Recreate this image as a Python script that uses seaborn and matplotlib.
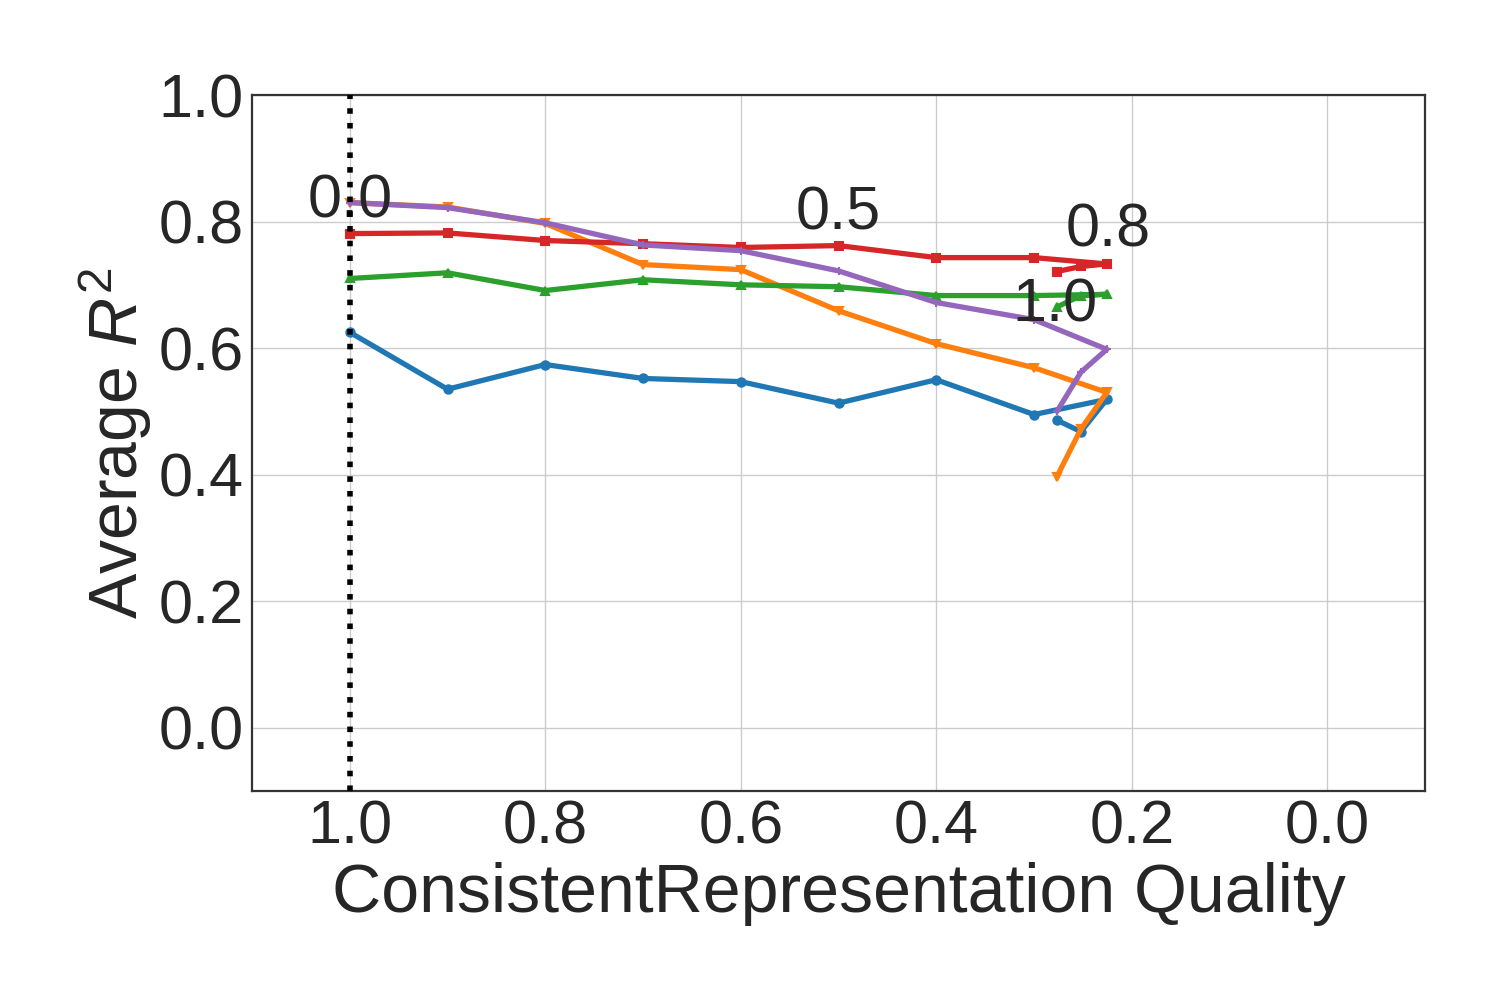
import numpy as np
import pandas as pd
import matplotlib
matplotlib.use("Agg")
import matplotlib.pyplot as plt
import seaborn as sns

# quality values (x) for each step; last three points hook back
quality = [1.0, 0.9, 0.8, 0.7, 0.6, 0.5, 0.4, 0.3, 0.2255, 0.252, 0.2765]

blue_r2 = [0.625, 0.535, 0.574, 0.552, 0.547, 0.513, 0.550, 0.495, 0.519, 0.468, 0.486]
orange_r2 = [0.830, 0.823, 0.797, 0.732, 0.724, 0.659, 0.607, 0.569, 0.530, 0.472, 0.397]
green_r2 = [0.710, 0.719, 0.691, 0.708, 0.700, 0.697, 0.683, 0.683, 0.685, 0.683, 0.665]
red_r2 = [0.781, 0.782, 0.770, 0.765, 0.759, 0.762, 0.743, 0.743, 0.733, 0.729, 0.721]
purple_r2 = [0.830, 0.822, 0.798, 0.763, 0.754, 0.722, 0.672, 0.645, 0.598, 0.562, 0.500]

series_names = ["s0", "s1", "s2", "s3", "s4"]
series_values = [blue_r2, orange_r2, green_r2, red_r2, purple_r2]
series_colors = ["#1f77b4", "#ff7f0e", "#2ca02c", "#d62728", "#9467bd"]
series_markers = ["o", "v", "^", "s", "+"]

annot_labels = ["0.0", "0.5", "0.8", "1.0"]
annot_x = [1.0, 0.5, 0.2245, 0.2786]
annot_y = [0.806, 0.787, 0.760, 0.642]

xticks = [1.0, 0.8, 0.6, 0.4, 0.2, 0.0]
yticks = [0.0, 0.2, 0.4, 0.6, 0.8, 1.0]

sns.set_theme(style="whitegrid")
plt.rcParams["font.family"] = ["Liberation Sans", "DejaVu Sans"]
plt.rcParams["mathtext.fontset"] = "custom"
plt.rcParams["mathtext.rm"] = "Liberation Sans"
plt.rcParams["mathtext.it"] = "Liberation Sans:italic"

fig = plt.figure(figsize=(15, 10), dpi=100)
ax = fig.add_axes([0.168, 0.209, 0.782, 0.696])

for name, vals, col, mk in zip(series_names, series_values, series_colors, series_markers):
    df = pd.DataFrame({"q": quality, "r2": vals})
    sns.lineplot(data=df, x="q", y="r2", sort=False, color=col, marker=mk,
                 markersize=6, markeredgewidth=1.5, markeredgecolor=col,
                 linewidth=3.8, ax=ax, estimator=None)

ax.axvline(1.0, color="black", linestyle=":", linewidth=4, zorder=5)

for lab, xx, yy in zip(annot_labels, annot_x, annot_y):
    ax.text(xx, yy, lab, ha="center", va="baseline", fontsize=44, color="#262626")

ax.set_xlim(1.1, -0.1)
ax.set_ylim(-0.1, 1.0)
ax.set_xticks(xticks)
ax.set_yticks(yticks)
ax.set_xticklabels([f"{t:.1f}" for t in xticks])
ax.set_yticklabels([f"{t:.1f}" for t in yticks])
ax.tick_params(labelsize=44, length=0)
ax.tick_params(axis="y", pad=6)
ax.tick_params(axis="x", pad=6)
ax.set_xlabel("ConsistentRepresentation Quality", fontsize=49, labelpad=4)
ax.set_ylabel("Average $R^2$", fontsize=49, labelpad=3)

for sp in ax.spines.values():
    sp.set_color("#333333")
    sp.set_linewidth(1.6)
ax.grid(True, color="#cccccc", linewidth=1.0)

fig.savefig("out.png", dpi=100)
